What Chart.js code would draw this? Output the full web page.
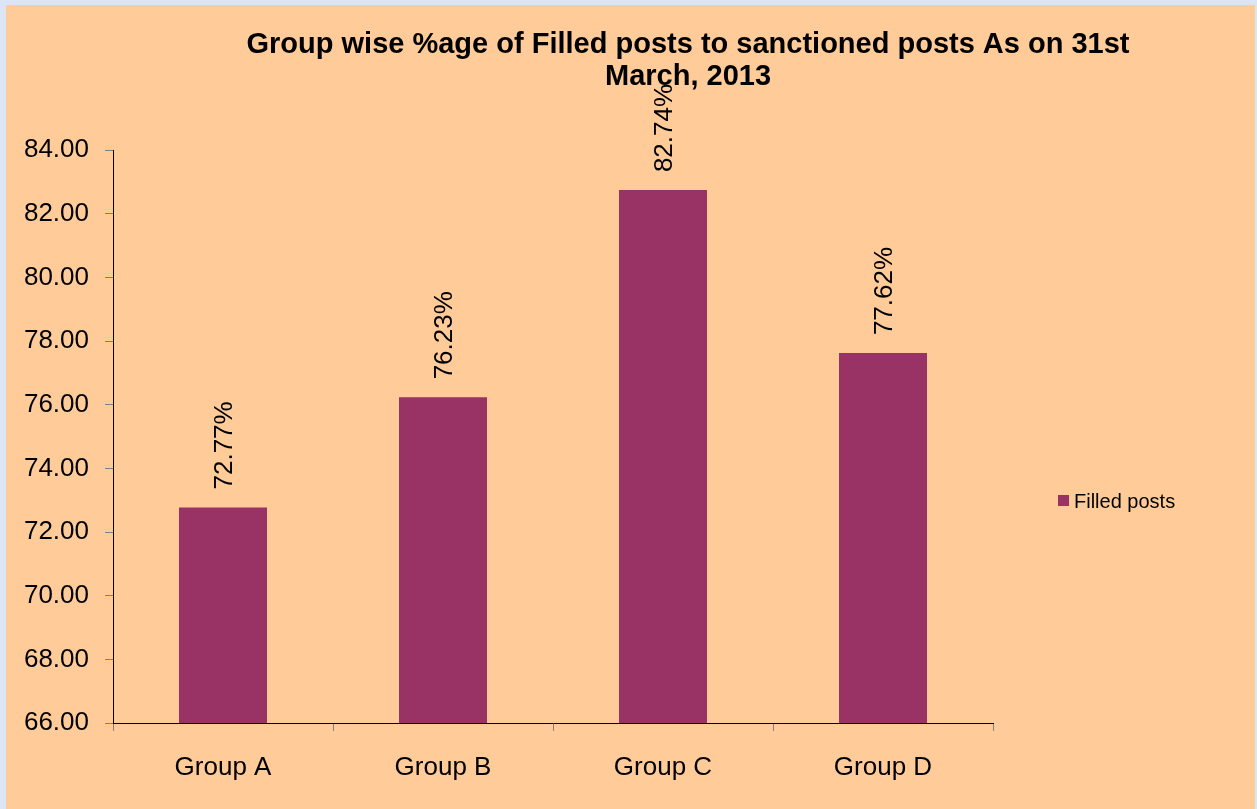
<!DOCTYPE html>
<html>
<head>
<meta charset="utf-8">
<script src="https://cdn.jsdelivr.net/npm/chart.js@4"></script>
<style>
  html,body{margin:0;padding:0;background:#dce6f2;width:1257px;height:809px;overflow:hidden;}
  #box{position:absolute;left:6px;top:5px;width:1249px;height:804px;background:#ffcc99;}
  #chart{position:absolute;left:0;top:0;}
</style>
</head>
<body>
<div id="box"></div>
<canvas id="chart" width="1257" height="809"></canvas>
<script>
  // --- data ---
  var categories  = ['Group A','Group B','Group C','Group D'];
  var filledPosts = [72.77, 76.23, 82.74, 77.62];
  var seriesName  = 'Filled posts';
  var titleLines  = ['Group wise %age of Filled posts to sanctioned posts As on 31st','March, 2013'];
  var yMin = 66, yMax = 84, yStep = 2;

  var FONT = '"Liberation Sans", Arial, sans-serif';
  var BAR  = '#993366';

  // title, legend and the rotated value labels
  var extras = {
    id:'extras',
    afterDraw:function(chart){
      var c = chart.ctx;
      c.save();
      c.fillStyle = '#000';
      c.font = 'bold 29px ' + FONT;
      c.textAlign = 'center';
      c.textBaseline = 'middle';
      c.fillText(titleLines[0], 688, 45);
      c.fillText(titleLines[1], 688, 77);

      // legend
      c.fillStyle = BAR;
      c.fillRect(1058, 495, 11, 11);
      c.fillStyle = '#000';
      c.font = '20px ' + FONT;
      c.textAlign = 'left';
      c.fillText(seriesName, 1074, 502);

      // value labels
      c.font = '26px ' + FONT;
      chart.getDatasetMeta(0).data.forEach(function(bar, i){
        c.save();
        c.translate(bar.x + 2, bar.y - 18);
        c.rotate(-Math.PI/2);
        c.textAlign = 'left';
        c.textBaseline = 'middle';
        c.fillText(filledPosts[i].toFixed(2) + '%', 0, 0);
        c.restore();
      });
      c.restore();
    }
  };

  new Chart(document.getElementById('chart'),{
    type:'bar',
    data:{
      labels: categories,
      datasets:[{
        label: seriesName,
        data: filledPosts,
        backgroundColor: BAR,
        borderWidth: 0,
        categoryPercentage: 1,
        barPercentage: 0.4
      }]
    },
    options:{
      responsive:false,
      animation:false,
      layout:{padding:{top:150,right:264,bottom:0,left:0}},
      plugins:{legend:{display:false},title:{display:false},tooltip:{enabled:false}},
      scales:{
        x:{
          grid:{drawOnChartArea:false,offset:true,tickLength:8,color:'#808080'},
          border:{display:true,color:'#000',width:1},
          ticks:{font:{family:FONT,size:26},color:'#000',padding:21,maxRotation:0},
          afterFit:function(s){ s.height = 86; }
        },
        y:{
          min:yMin, max:yMax,
          grid:{drawOnChartArea:false,tickLength:8,color:'#808080'},
          border:{display:true,color:'#000',width:1},
          ticks:{stepSize:yStep,font:{family:FONT,size:26},color:'#000',padding:16,
                 callback:function(v){ return v.toFixed(2); }},
          afterFit:function(s){ s.width = 113; }
        }
      }
    },
    plugins:[extras]
  });
</script>
</body>
</html>
